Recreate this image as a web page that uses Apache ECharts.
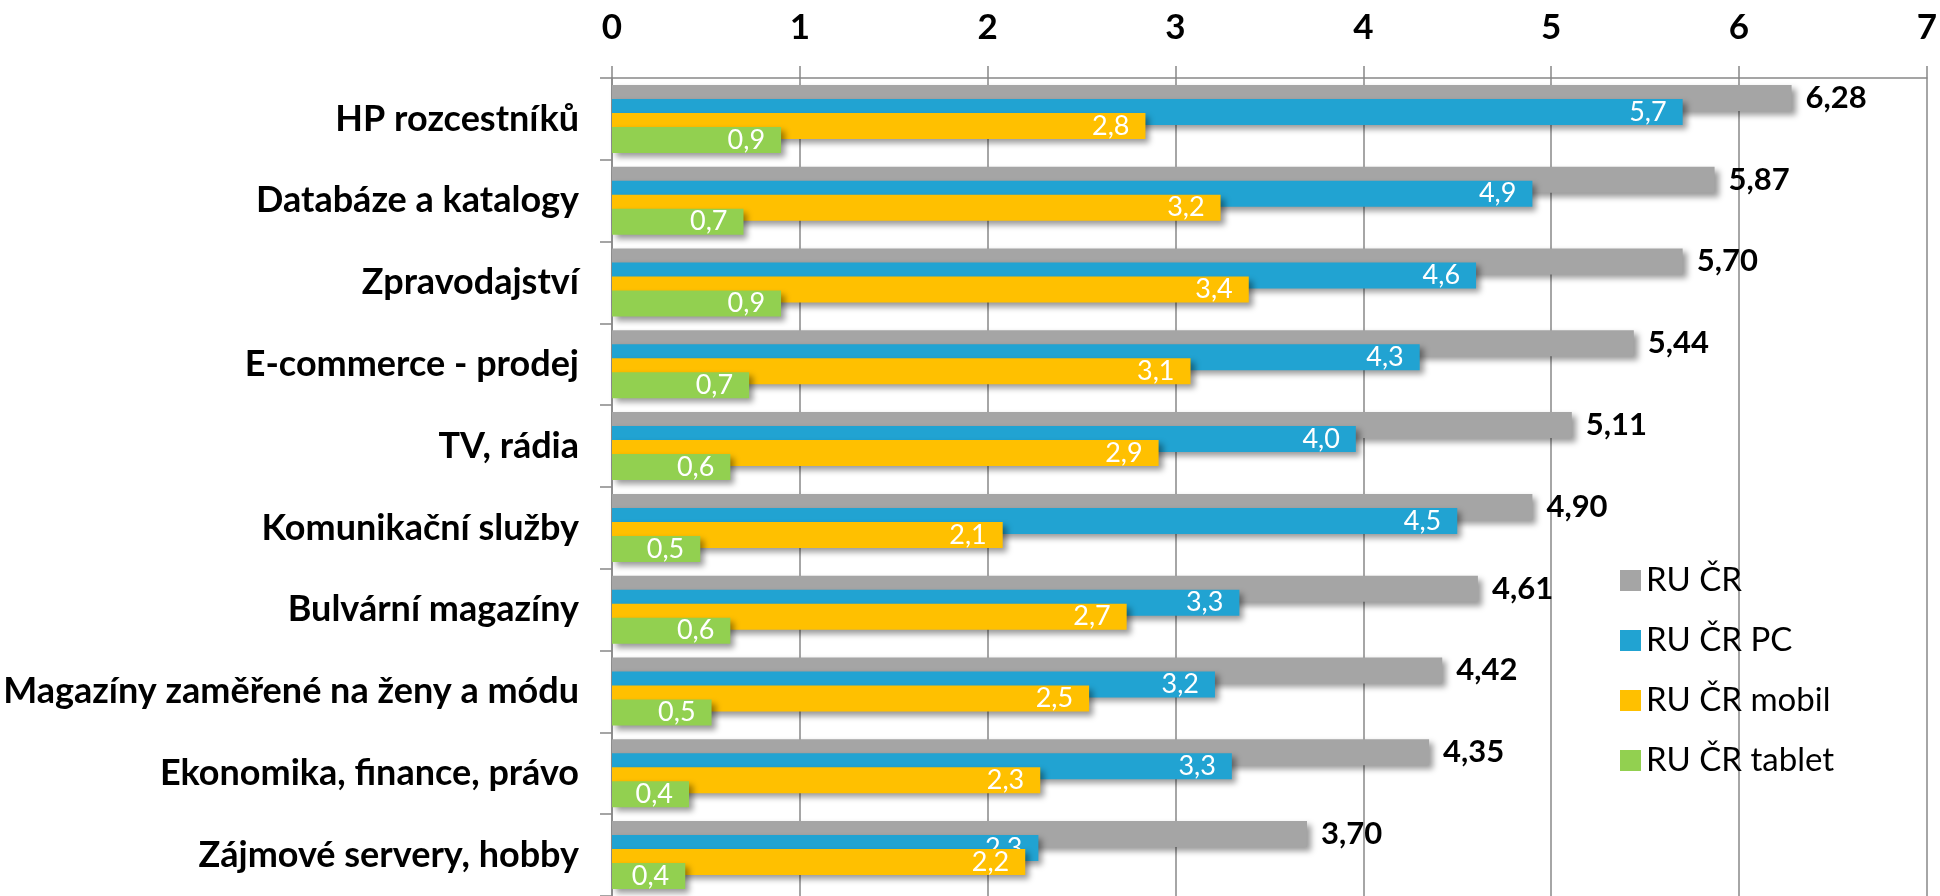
<!DOCTYPE html>
<html>
<head>
<meta charset="utf-8">
<script src="https://cdn.jsdelivr.net/npm/echarts@6/dist/echarts.min.js"></script>
<style>
html,body{margin:0;padding:0;background:#fff;}
#chart{width:1940px;height:896px;}
</style>
</head>
<body>
<div id="chart"></div>
<script>
const categories = ["HP rozcestníků","Databáze a katalogy","Zpravodajství","E-commerce - prodej","TV, rádia","Komunikační služby","Bulvární magazíny","Magazíny zaměřené na ženy a módu","Ekonomika, finance, právo","Zájmové servery, hobby"];
const seriesNames = ["RU ČR","RU ČR PC","RU ČR mobil","RU ČR tablet"];
const ruCR = [6.28,5.87,5.70,5.44,5.11,4.90,4.61,4.42,4.35,3.70];
const ruPC = [5.70,4.90,4.60,4.30,3.96,4.50,3.34,3.21,3.30,2.27];
const ruMobil = [2.84,3.24,3.39,3.08,2.91,2.08,2.74,2.54,2.28,2.20];
const ruTablet = [0.90,0.70,0.90,0.73,0.63,0.47,0.63,0.53,0.41,0.39];
const xTicks = [0,1,2,3,4,5,6,7];

const FONT = "Lato";
const colors = ["#A5A5A5","#21A3D2","#FFC000","#92D050"];
const shadow = {shadowBlur:6, shadowOffsetX:4, shadowOffsetY:4, shadowColor:"rgba(0,0,0,0.4)"};
const comma = (v,d) => v.toFixed(d).replace(".", ",");

function mk(i, data, dec, outside){
  return {
    name: seriesNames[i], type:"bar", data: data,
    barWidth: 26, barGap: "-46.15%", z: 2+i,
    itemStyle: Object.assign({color: colors[i]}, shadow),
    label: outside ? {
      show:true, position:"right", distance:14, color:"#000", fontFamily:FONT, fontWeight:"bold", fontSize:31,
      formatter: p => comma(p.value, dec)
    } : {
      show:true, position:"insideRight", distance:16, color:"#fff", fontFamily:FONT, fontSize:27,
      formatter: p => comma(p.value, dec)
    },
    emphasis:{disabled:true}, animation:false
  };
}

const chart = echarts.init(document.getElementById("chart"), null, {renderer:"canvas"});
chart.setOption({
  animation:false,
  grid:{left:612, top:78, width:1317, height:820, containLabel:false},
  legend:{
    orient:"vertical", left:1615, top:559, itemWidth:21, itemHeight:21, itemGap:27,
    icon:"rect", data: seriesNames,
    textStyle:{fontFamily:FONT, fontSize:33, color:"#000"}
  },
  xAxis:{
    type:"value", position:"top", min:0, max:7, interval:1,
    axisLine:{show:true, lineStyle:{color:"#888", width:1.5}},
    axisTick:{show:true, length:12, lineStyle:{color:"#888", width:1.5}},
    splitLine:{show:true, lineStyle:{color:"#888", width:1.5}},
    axisLabel:{fontFamily:FONT, fontWeight:"bold", fontSize:35, color:"#000", margin:33,
      formatter: v => String(v)}
  },
  yAxis:{
    type:"category", inverse:true, data: categories,
    axisLine:{show:true, lineStyle:{color:"#888", width:1.5}},
    axisTick:{show:true, length:12, lineStyle:{color:"#888", width:1.5}},
    axisLabel:{fontFamily:FONT, fontWeight:"bold", fontSize:36, color:"#000", margin:33}
  },
  series:[
    mk(0, ruCR, 2, true),
    mk(1, ruPC, 1, false),
    mk(2, ruMobil, 1, false),
    mk(3, ruTablet, 1, false)
  ]
});
</script>
</body>
</html>
